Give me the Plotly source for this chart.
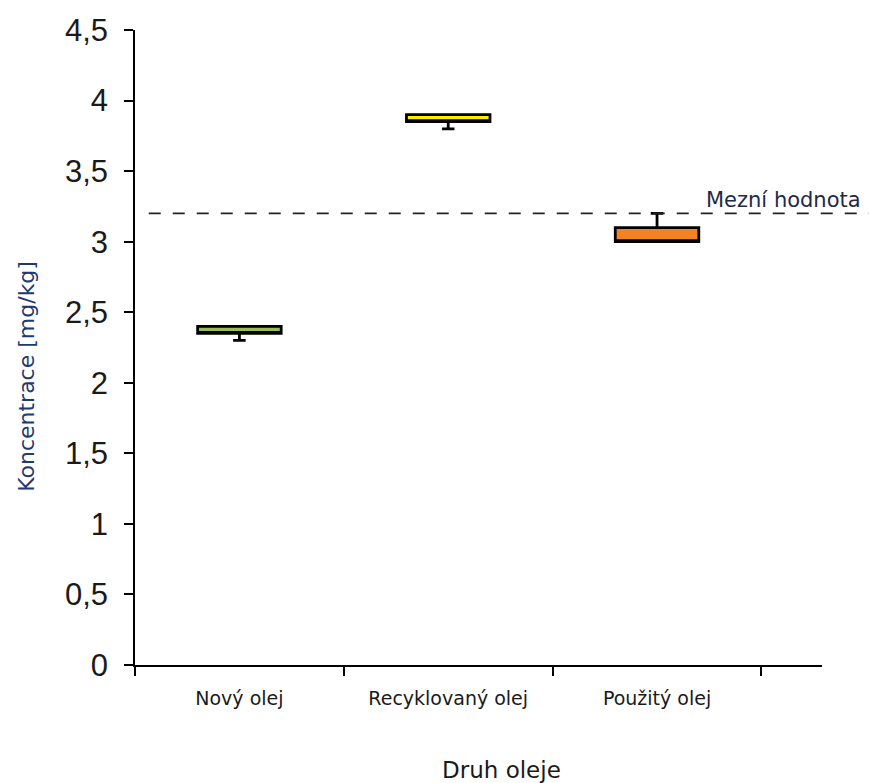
import plotly.graph_objects as go

categories = ["Nový olej", "Recyklovaný olej", "Použitý olej"]
q1 = [2.35, 3.85, 3.00]
median = [2.35, 3.85, 3.00]
q3 = [2.40, 3.90, 3.10]
lower = [2.30, 3.80, 3.00]
upper = [2.40, 3.90, 3.20]
fill_colors = ["#9BBB59", "#FFEB00", "#F58220"]
limit_value = 3.2
limit_label = "Mezní hodnota"
y_ticks = [0, 0.5, 1, 1.5, 2, 2.5, 3, 3.5, 4, 4.5]
x_title = "Druh oleje"
y_title = "Koncentrace [mg/kg]"

fig = go.Figure()
for i, cat in enumerate(categories):
    fig.add_trace(go.Box(
        x=[cat], q1=[q1[i]], median=[median[i]], q3=[q3[i]],
        lowerfence=[lower[i]], upperfence=[upper[i]],
        fillcolor=fill_colors[i], line=dict(color="black", width=2.8),
        width=0.4, whiskerwidth=0.15, boxpoints=False, showlegend=False,
        hoverinfo="skip",
    ))

fig.add_shape(type="line", xref="paper", yref="y", x0=0.02, x1=1.07,
              y0=limit_value, y1=limit_value,
              line=dict(color="#222222", width=1.8, dash="12px,12px"))
fig.add_annotation(xref="paper", yref="y", x=1.06, y=limit_value,
                   text=limit_label, showarrow=False, xanchor="right",
                   yanchor="bottom", yshift=-1,
                   font=dict(family="DejaVu Sans", size=21, color="#1F2A44"))

# axis titles placed as annotations to match the reference offsets
fig.add_annotation(xref="paper", yref="paper", x=0.533, y=-0.165,
                   text=x_title, showarrow=False, xanchor="center", yanchor="middle",
                   font=dict(family="DejaVu Sans", size=23, color="#1a1a1a"))
fig.add_annotation(xref="paper", yref="paper", x=-0.159, y=0.455,
                   text=y_title, showarrow=False, textangle=-90,
                   xanchor="center", yanchor="middle",
                   font=dict(family="DejaVu Sans", size=22, color="#1F3A6E"))

fig.update_layout(
    width=869, height=783,
    margin=dict(l=135, r=47, t=30, b=118),
    plot_bgcolor="white", paper_bgcolor="white",
    separators=", ",
    boxmode="overlay",
    xaxis=dict(
        type="category", categoryorder="array", categoryarray=categories,
        range=[-0.5, 2.79], tickson="boundaries",
        showline=True, linecolor="black", linewidth=1.5,
        ticks="outside", ticklen=9, tickcolor="black", tickwidth=1.5,
        showgrid=False, zeroline=False,
        tickfont=dict(family="DejaVu Sans", size=19, color="#1a1a1a"),
        ticklabelstandoff=15,
    ),
    yaxis=dict(
        range=[0, 4.5], tickvals=y_ticks,
        showline=True, linecolor="black", linewidth=1.5,
        ticks="outside", ticklen=9, tickcolor="black", tickwidth=1.5,
        showgrid=False, zeroline=False,
        tickfont=dict(family="Liberation Sans", size=31, color="#1a1a1a"),
        ticklabelstandoff=10,
    ),
)

fig.write_html("out.html")
